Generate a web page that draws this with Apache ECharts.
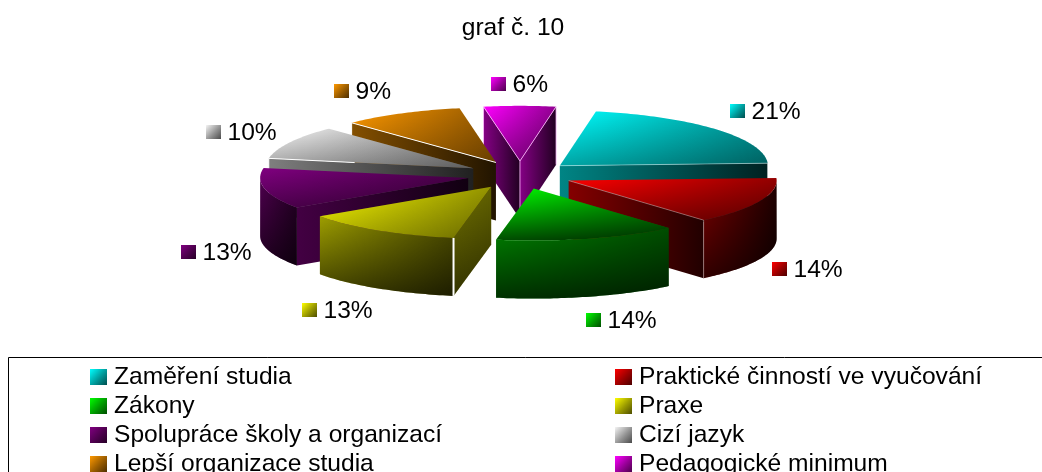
<!DOCTYPE html>
<html><head><meta charset="utf-8">
<style>html,body{margin:0;padding:0;background:#fff}#c{width:1042px;height:472px}</style>
<script src="https://cdn.jsdelivr.net/npm/echarts@6/dist/echarts.min.js"></script>
</head><body><div id="c"></div>
<script>
// ---- data ----
var categories = ['Zaměření studia','Praktické činností ve vyučování','Zákony','Praxe','Spolupráce školy a organizací','Cizí jazyk','Lepší organizace studia','Pedagogické minimum'];
var shares = [21.49,14.49,14.14,12.5,12.5,9.9,9.4,5.58];
// ---- style / layout ----
var baseColors = [[0,255,255],[255,0,0],[0,255,0],[255,255,0],[128,0,128],[245,245,245],[255,153,0],[255,0,255]];
var faceFade = [.35,.4,.7,.3,.4,.35,.3,.38];
var edgeColors = ['rgba(255,255,255,.4)','rgba(255,255,255,.35)',null,'#fff',null,'#fff','#fff','rgba(255,190,255,.8)'];
var labelSpots = [[730,104],[772,262],[586,313],[302,303],[181,245],[206,125],[334,84],[491,77]];
var pie = {cx:520, cy:175, rx:208, kBack:0.265, kFront:0.25, explode:53, depth:58, startDeg:10};
var FONT = '"Liberation Sans", Arial, sans-serif', FS = 24.6;

var LG = echarts.graphic.LinearGradient;
function shade(c,f,a){return 'rgba('+Math.round(c[0]*f)+','+Math.round(c[1]*f)+','+Math.round(c[2]*f)+','+(a==null?1:a)+')';}
function hGrad(c,a,b){return new LG(0,0,1,0,[{offset:0,color:shade(c,a)},{offset:1,color:shade(c,b)}]);}
function vShade(a,b){return new LG(0,0,0,1,[{offset:0,color:'rgba(0,0,0,'+(a||0)+')'},{offset:1,color:'rgba(0,0,0,'+b+')'}]);}
function swatch(c){return new LG(0,0,1,1,[{offset:0,color:shade(c,1)},{offset:.55,color:shade(c,.6)},{offset:1,color:shade(c,.3)}]);}

var total = shares.reduce(function(s,v){return s+v;},0);
function toDeg(v){return echarts.number.linearMap(v,[0,total],[pie.startDeg,pie.startDeg+360]);}
var cum = 0;
var slices = shares.map(function(v,i){
  var a0 = toDeg(cum); cum += v; var a1 = toDeg(cum);
  var m = (a0+a1)/2*Math.PI/180;
  return {i:i,a0:a0,a1:a1,
    x:pie.cx+pie.explode*Math.sin(m),
    y:pie.cy-pie.explode*pie.kBack*Math.cos(m)};
});
function rim(s,deg){var t=deg*Math.PI/180,c=Math.cos(t);return [s.x+pie.rx*Math.sin(t), s.y-pie.rx*(c>0?pie.kBack:pie.kFront)*c];}
function arc(s,a,b){var p=[],n=Math.max(2,Math.ceil(Math.abs(b-a)));for(var j=0;j<=n;j++)p.push(rim(s,a+(b-a)*j/n));return p;}
function poly(points,fill){return {type:'polygon',shape:{points:points},style:{fill:fill,stroke:null},silent:true};}
function line(points,color,w){return {type:'polyline',shape:{points:points},style:{stroke:color,lineWidth:w||1,fill:null},silent:true};}
function down(p){return [p[0],p[1]+pie.depth];}
function lerp(p,q,t){return [p[0]+(q[0]-p[0])*t,p[1]+(q[1]-p[1])*t];}

function renderSlice(params,api){
  var s = slices[api.value(0)], c = baseColors[s.i], ch = [], e = edgeColors[s.i];
  var C = [s.x,s.y], C2 = down(C);
  function radial(deg){
    var R = rim(s,deg), pts=[C,R,down(R),C2];
    if(s.i===3){ ch.push(poly(pts,hGrad(c,.45,.38))); ch.push(poly(pts,vShade(0,.55))); }
    else ch.push(poly(pts,hGrad(c,.52,.13)));
  }
  var sa = Math.sin(s.a0*Math.PI/180), sb = Math.sin(s.a1*Math.PI/180);
  var showStart = sa<0, showEnd = sb>0;
  if(showStart) radial(s.a0);
  if(showEnd) radial(s.a1);
  var f0 = Math.max(s.a0,90), f1 = Math.min(s.a1,270);
  if(f1>f0){
    var top = arc(s,f0,f1), bottom = top.map(down).reverse(), wall = top.concat(bottom);
    ch.push(poly(wall,hGrad(c,f0>180?.62:.5,f1>180?.3:.12)));
    ch.push(poly(wall,vShade(0,.62)));
  }
  var face = [C].concat(arc(s,s.a0,s.a1));
  ch.push(poly(face,hGrad(c,1,.58)));
  ch.push(poly(face,vShade(0,faceFade[s.i])));
  if(e){
    if(showStart){
      var R0 = rim(s,s.a0);
      if(s.i!==3) ch.push(line([s.i===5?lerp(R0,C,.42):C,R0],e));
      ch.push(line([R0,down(R0)],e,s.i===3?2:1));
    }
    if(showEnd){var R1=rim(s,s.a1);ch.push(line([C,R1],e));ch.push(line([R1,down(R1)],e));}
    if(showStart&&showEnd)ch.push(line([C,C2],e));
  }
  var L = labelSpots[s.i];
  ch.push({type:'rect',z2:50,shape:{x:L[0],y:L[1],width:15,height:14},style:{fill:swatch(c)},silent:true});
  ch.push({type:'text',z2:50,style:{x:L[0]+21.5,y:L[1]+8.5,text:Math.round(shares[s.i])+'%',fill:'#000',font:FS+'px '+FONT,verticalAlign:'middle',align:'left'},silent:true});
  return {type:'group',children:ch};
}

// paint order: farthest slice first
var order = slices.slice().sort(function(a,b){return a.y-b.y;});
var series = order.map(function(s,rank){
  return {type:'custom',name:categories[s.i],coordinateSystem:'none',renderItem:renderSlice,
    data:[[s.i,shares[s.i]]],z:2+rank,animation:false,itemStyle:{color:shade(baseColors[s.i],1)},silent:true,clip:false};
});
function legendOf(idx,left){
  return {show:true,orient:'vertical',left:left,top:364.5,height:200,itemWidth:17,itemHeight:16,itemGap:4,selectedMode:false,
    textStyle:{fontFamily:FONT,fontSize:FS,color:'#000',lineHeight:16,padding:[0,0,0,2]},padding:0,
    data:idx.map(function(i){return {name:categories[i],icon:'rect',itemStyle:{color:swatch(baseColors[i]),borderWidth:0}};})};
}
var chart = echarts.init(document.getElementById('c'),null,{renderer:'canvas'});
chart.setOption({
  animation:false,backgroundColor:'#fff',
  title:{text:'graf č. 10',left:508,top:11,textAlign:'center',textStyle:{fontFamily:FONT,fontSize:FS,fontWeight:'normal',color:'#000'}},
  legend:[legendOf([0,2,4,6],90),legendOf([1,3,5,7],615)],
  graphic:[{type:'rect',z:0,silent:true,shape:{x:8.5,y:357.5,width:1200,height:300},style:{fill:null,stroke:'#000',lineWidth:1}}],
  series:series
});
</script></body></html>
